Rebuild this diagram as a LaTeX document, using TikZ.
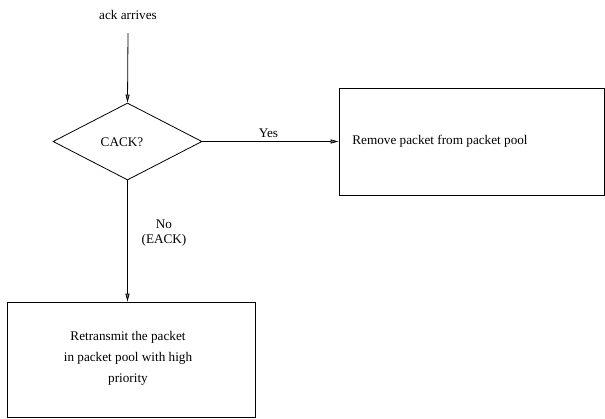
\documentclass[tikz,border=0pt]{standalone}
\usepackage{fontspec}
\setmainfont{Liberation Serif}
\newfontfamily\timesfont{Liberation Serif}
\usetikzlibrary{arrows.meta,shapes.geometric}
\begin{document}
\begin{tikzpicture}[x=1pt,y=-1pt,
  every node/.style={font=\timesfont\fontsize{13.2}{15}\selectfont},
  box/.style={draw,line width=0.8pt,inner sep=0pt},
  conn/.style={line width=0.8pt,-{Triangle[length=8pt,width=4pt,fill=gray]}},
  lbl/.style={inner sep=1pt}]
\useasboundingbox (0,0) rectangle (605,418);
\node[lbl] (start) at (128,15) {ack arrives};
\coordinate (top) at (128,33);
\node[draw,line width=0.8pt,diamond,aspect=1.935,minimum width=149pt,minimum height=77pt,inner sep=0pt] (cack) at (127.5,141.5) {};
\node[lbl] at (122,142) {CACK?};
\node[box,minimum width=265pt,minimum height=107pt] (remove) at (471.5,141.5) {};
\node[lbl] at (440,141) {Remove packet from packet pool};
\node[box,minimum width=248pt,minimum height=115pt] (retx) at (131,359.5) {};
\node[lbl,align=center] at (128,358) {Retransmit the packet\\[6pt]in packet pool with high\\[6pt]priority};
\draw[conn] (top) -- (cack.north);
\draw[conn] (cack.east) -- node[above=2pt,lbl,xshift=-2pt] {Yes} (remove.west);
\draw[conn] (cack.south) -- (cack.south |- retx.north);
\node[lbl,align=center] at (164,233) {No\\(EACK)};
\end{tikzpicture}
\end{document}
